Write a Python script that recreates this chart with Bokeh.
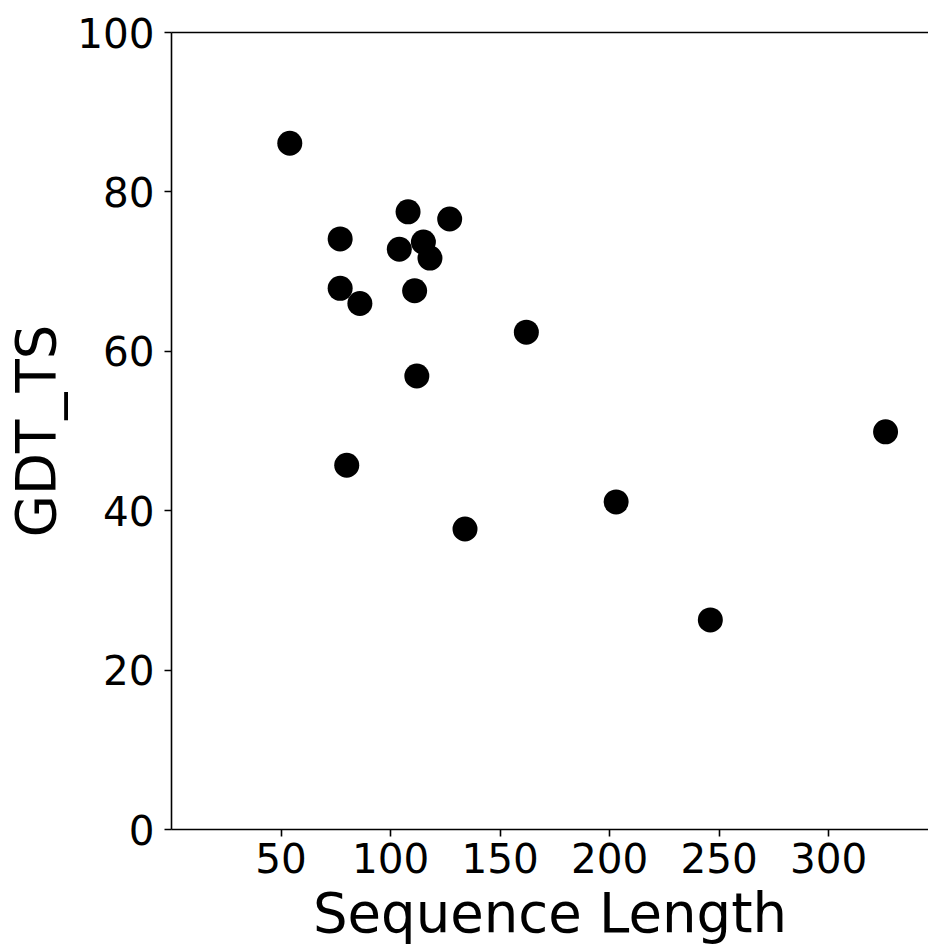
from bokeh.plotting import figure
from bokeh.models import LinearAxis, FixedTicker, Range1d
from bokeh.embed import file_html
from bokeh.resources import INLINE

seq_length = [54, 77, 77, 80, 86, 104, 108, 111, 112, 115, 118, 127, 134, 162, 203, 246, 326]
gdt_ts = [86.1, 74.1, 67.9, 45.7, 66.0, 72.8, 77.5, 67.6, 56.9, 73.7, 71.7, 76.6, 37.7, 62.4, 41.1, 26.3, 49.9]

x_ticks = [50, 100, 150, 200, 250, 300]
y_ticks = [0, 20, 40, 60, 80, 100]

FONT = "DejaVu Sans"

p = figure(width=928, height=948, output_backend="svg", toolbar_location=None,
           x_range=Range1d(0, 345.6), y_range=Range1d(0, 100),
           x_axis_location=None, y_axis_location=None,
           min_border_left=171, min_border_top=32, min_border_bottom=119, min_border_right=0)
p.outline_line_color = None
p.grid.visible = False
p.background_fill_color = "white"
p.border_fill_color = "white"

def style(ax, ticks):
    ax.ticker = FixedTicker(ticks=ticks)
    ax.axis_line_color = "black"
    ax.axis_line_width = 1.6
    ax.major_tick_line_color = "black"
    ax.major_tick_line_width = 1.6
    ax.major_tick_out = 7
    ax.major_tick_in = 0
    ax.minor_tick_line_color = None
    ax.major_label_text_font = FONT
    ax.major_label_text_font_size = "40.5px"
    ax.major_label_text_color = "black"
    ax.axis_label_text_font = FONT
    ax.axis_label_text_font_size = "54.5px"
    ax.axis_label_text_font_style = "normal"
    ax.axis_label_text_color = "black"

xa = LinearAxis(axis_label="Sequence Length")
style(xa, x_ticks)
xa.major_label_standoff = 6
xa.axis_label_standoff = 5
p.add_layout(xa, "below")

ya = LinearAxis(axis_label="GDT_TS")
style(ya, y_ticks)
ya.major_label_standoff = 10
ya.axis_label_standoff = 6
p.add_layout(ya, "left")

top = LinearAxis(ticker=FixedTicker(ticks=[]))
top.axis_line_color = "black"
top.axis_line_width = 1.6
top.major_tick_line_color = None
top.minor_tick_line_color = None
top.major_label_text_font_size = "0px"
p.add_layout(top, "above")

p.scatter(seq_length, gdt_ts, size=25, fill_color="black", line_color=None)

open("out.html", "w").write(file_html(p, INLINE))
